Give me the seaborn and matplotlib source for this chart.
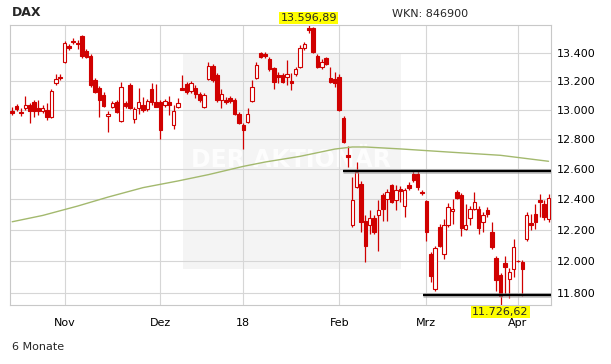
import numpy as np
import pandas as pd
import matplotlib
matplotlib.use("Agg")
import matplotlib.pyplot as plt
from matplotlib.patches import Rectangle
from matplotlib.ticker import FixedLocator, NullLocator
import seaborn as sns

# Tageskerzen DAX (Handelstag-Index 0..123)
opens = [12991, 13026, 12988, 13010, 13033, 13052, 13010, 12991, 12998, 12952,
         13183, 13229, 13337, 13449, 13484, 13470, 13518, 13411, 13375, 13206,
         13153, 13102, 12959, 13021, 13052, 12923, 13045, 13172, 12936, 13014,
         13033, 13005, 13148, 13056, 13056, 13033, 13052, 12895, 13021, 13153,
         13176, 13130, 13153, 13107, 13021, 13213, 13304, 13241, 13067, 13067,
         13079, 13067, 12975, 12895, 12918, 13062, 13218, 13394, 13387, 13352,
         13288, 13241, 13241, 13225, 13201, 13246, 13295, 13430, 13573, 13573,
         13375, 13295, 13359, 13218, 13211, 13229, 12948, 12695, 12230, 12481,
         12503, 12262, 12230, 12280, 12295, 12426, 12404, 12492, 12393, 12470,
         12354, 12492, 12569, 12569, 12448, 12386, 12048, 11827, 12219, 12050,
         12236, 12323, 12448, 12426, 12208, 12280, 12338, 12338, 12251, 12332,
         12187, 12022, 11917, 11988, 11888, 11952, 12005, 11999, 12144, 12245,
         12306, 12393, 12367, 12273]
highs = [13019, 13040, 13010, 13097, 13047, 13067, 13067, 13033, 13045, 13143,
         13246, 13246, 13481, 13461, 13503, 13489, 13525, 13425, 13389, 13220,
         13164, 13123, 12991, 13060, 13067, 13195, 13060, 13185, 13019, 13153,
         13090, 13074, 13183, 13176, 13067, 13074, 13097, 13033, 13083, 13241,
         13193, 13199, 13172, 13123, 13116, 13335, 13318, 13255, 13148, 13088,
         13095, 13081, 12984, 12909, 13016, 13206, 13335, 13404, 13406, 13368,
         13300, 13265, 13255, 13347, 13253, 13297, 13454, 13475, 13596.89, 13583,
         13389, 13354, 13368, 13300, 13265, 13248, 12957, 12753, 12547, 12647,
         12518, 12295, 12328, 12295, 12393, 12439, 12470, 12503, 12492, 12485,
         12472, 12514, 12596, 12596, 12459, 12399, 12062, 12101, 12241, 12273,
         12375, 12404, 12459, 12439, 12371, 12354, 12448, 12354, 12315, 12347,
         12251, 12037, 11929, 12037, 11959, 12144, 12012, 12012, 12317, 12306,
         12367, 12437, 12398, 12437]
lows = [12964, 12991, 12959, 12998, 12909, 12952, 12964, 12977, 12930, 12943,
        13171, 13206, 13330, 13418, 13461, 13429, 13363, 13361, 13158, 13116,
        12952, 13019, 12848, 13012, 12977, 12916, 13010, 13005, 12914, 12975,
        12986, 12991, 13033, 13019, 12805, 13019, 12964, 12868, 13014, 13137,
        13109, 13116, 13079, 13053, 13010, 13206, 13193, 13053, 13014, 13039,
        13045, 12964, 12902, 12737, 12909, 13056, 13213, 13361, 13359, 13270,
        13148, 13183, 13185, 13172, 13137, 13234, 13290, 13418, 13539, 13397,
        13290, 13281, 13312, 13183, 13160, 12991, 12777, 12614, 12217, 12472,
        12187, 11995, 12176, 12178, 12069, 12262, 12262, 12375, 12328, 12382,
        12284, 12459, 12512, 12463, 12429, 12133, 11870, 11816, 12090, 12018,
        12223, 12241, 12400, 12159, 12198, 12230, 12328, 12176, 12187, 12288,
        12082, 11816, 11726.62, 11793, 11770, 11900, 11995, 11785, 12129, 12198,
        12209, 12284, 12267, 12251]
closes = [12977, 13005, 12977, 13037, 12991, 12991, 12991, 13010, 12952, 13130,
          13211, 13218, 13465, 13434, 13473, 13458, 13375, 13370, 13172, 13125,
          13067, 13028, 12975, 13045, 12986, 13160, 13028, 13014, 13005, 13056,
          12998, 13060, 13056, 13021, 12861, 13060, 13037, 12991, 13045, 13141,
          13121, 13183, 13113, 13067, 13102, 13307, 13206, 13067, 13107, 13053,
          13060, 12975, 12911, 12866, 12975, 13160, 13312, 13370, 13375, 13281,
          13195, 13229, 13195, 13248, 13187, 13281, 13430, 13458, 13561, 13406,
          13300, 13335, 13323, 13195, 13183, 12998, 12782, 12679, 12393, 12580,
          12251, 12101, 12280, 12187, 12328, 12338, 12448, 12382, 12459, 12454,
          12459, 12477, 12525, 12481, 12440, 12187, 11910, 12086, 12101, 12236,
          12349, 12338, 12411, 12213, 12234, 12338, 12382, 12215, 12301, 12306,
          12090, 11883, 11785, 11967, 11931, 12090, 12000, 11953, 12301, 12234,
          12251, 12380, 12284, 12411]

ma_idx = [0, 7, 15, 22, 30, 38, 45, 53, 58, 66, 74, 78, 81, 89, 100, 112, 123]
ma_val = [12254, 12295, 12356, 12415, 12477, 12521, 12563, 12618, 12647, 12685,
          12734, 12748, 12748, 12735, 12714, 12692, 12652]

month_pos = [12, 34, 53, 75, 95, 116]
month_labels = ['Nov', 'Dez', '18', 'Feb', 'Mrz', 'Apr']
price_ticks = [11800, 12000, 12200, 12400, 12600, 12800, 13000, 13200, 13400]

max_idx, max_val = 68, 13596.89
min_idx, min_val = 112, 11726.62
resist_val, resist_start = 12590, 75.8
support_val, support_start = 11787, 94.3

RED = '#d00000'
MA_COLOR = '#a3b96e'
GRID = '#d6d6d6'


def de_num(v, dec=0):
    s = f"{v:,.{dec}f}"
    return s.replace(',', 'X').replace('.', ',').replace('X', '.')


sns.set_style("white")
plt.rcParams['font.family'] = ['DejaVu Sans']

fig = plt.figure(figsize=(6.11, 3.64), dpi=100)
ax = fig.add_axes([10 / 611, 1 - 305 / 364, 540.7 / 611, 280 / 364])

df = pd.DataFrame({'idx': np.arange(len(opens)), 'open': opens, 'high': highs,
                   'low': lows, 'close': closes})
up = df['close'] >= df['open']
body_lo = np.minimum(df['open'], df['close'])
body_h = np.maximum((df['close'] - df['open']).abs(), 2.0)

# Hintergrund-Wasserzeichen
ax.add_patch(Rectangle((183 / 611, 1 - 269 / 364), 218 / 611, 216 / 364,
                       transform=fig.transFigure, facecolor='#f4f4f4',
                       edgecolor='none', zorder=0.2))
ax.text(291 / 611, 1 - 160 / 364, 'DER AKTIONÄR', transform=fig.transFigure,
        ha='center', va='center', fontsize=17, fontweight='bold',
        color='#fdfdfd', zorder=0.3)

# Kerzen
ax.vlines(df['idx'], df['low'], df['high'], color=RED, lw=0.9, zorder=2)
ax.bar(df['idx'], body_h, bottom=body_lo, width=0.8,
       color=np.where(up, 'white', RED), edgecolor=RED, linewidth=0.8, zorder=3)

sns.lineplot(x=ma_idx, y=ma_val, ax=ax, color=MA_COLOR, lw=1, zorder=2.5)

# Unterstützung / Widerstand
for val, start in [(resist_val, resist_start), (support_val, support_start)]:
    ax.hlines(val, start, 123.5, color='#9a9a9a', lw=3.4, alpha=0.6, zorder=4)
    ax.hlines(val, start, 123.5, color='black', lw=1.6, zorder=4.1)

ax.set_yscale('log')
ax.set_ylim(min_val, max_val)
ax.set_xlim(-0.5, 123.5)
ax.yaxis.set_major_locator(FixedLocator(price_ticks))
ax.yaxis.set_minor_locator(NullLocator())
ax.set_yticklabels([de_num(v) for v in price_ticks])
ax.set_xticks(month_pos)
ax.set_xticklabels(month_labels)
ax.yaxis.tick_right()
ax.tick_params(axis='y', length=0, pad=4.5, labelsize=8, colors='black')
ax.tick_params(axis='x', length=0, pad=9, labelsize=8, colors='black')
ax.set_xlabel('')
ax.set_ylabel('')

ax.grid(True, color=GRID, lw=0.8)
ax.set_axisbelow(True)
for sp in ax.spines.values():
    sp.set_visible(True)
    sp.set_color('#c8c8c8')
    sp.set_linewidth(0.8)

# Hoch/Tief-Markierungen
ax.annotate(de_num(max_val, 2), xy=(max_idx, max_val), xytext=(0, 1.5),
            textcoords='offset points', ha='center', va='bottom', fontsize=8,
            bbox=dict(boxstyle='square,pad=0.1', fc='#ffff00', ec='none'),
            annotation_clip=False, zorder=6)
ax.annotate(de_num(min_val, 2), xy=(min_idx, min_val), xytext=(0, -1.5),
            textcoords='offset points', ha='center', va='top', fontsize=8,
            bbox=dict(boxstyle='square,pad=0.1', fc='#ffff00', ec='none'),
            annotation_clip=False, zorder=6)

fig.text(12 / 611, 1 - 13 / 364, 'DAX', fontsize=9, fontweight='bold',
         ha='left', va='center')
fig.text(392 / 611, 1 - 14 / 364, 'WKN: 846900', fontsize=8,
         ha='left', va='center')
fig.text(12 / 611, 1 - 346.7 / 364, '6 Monate', fontsize=8,
         ha='left', va='center')

fig.savefig('out.png', dpi=100)
